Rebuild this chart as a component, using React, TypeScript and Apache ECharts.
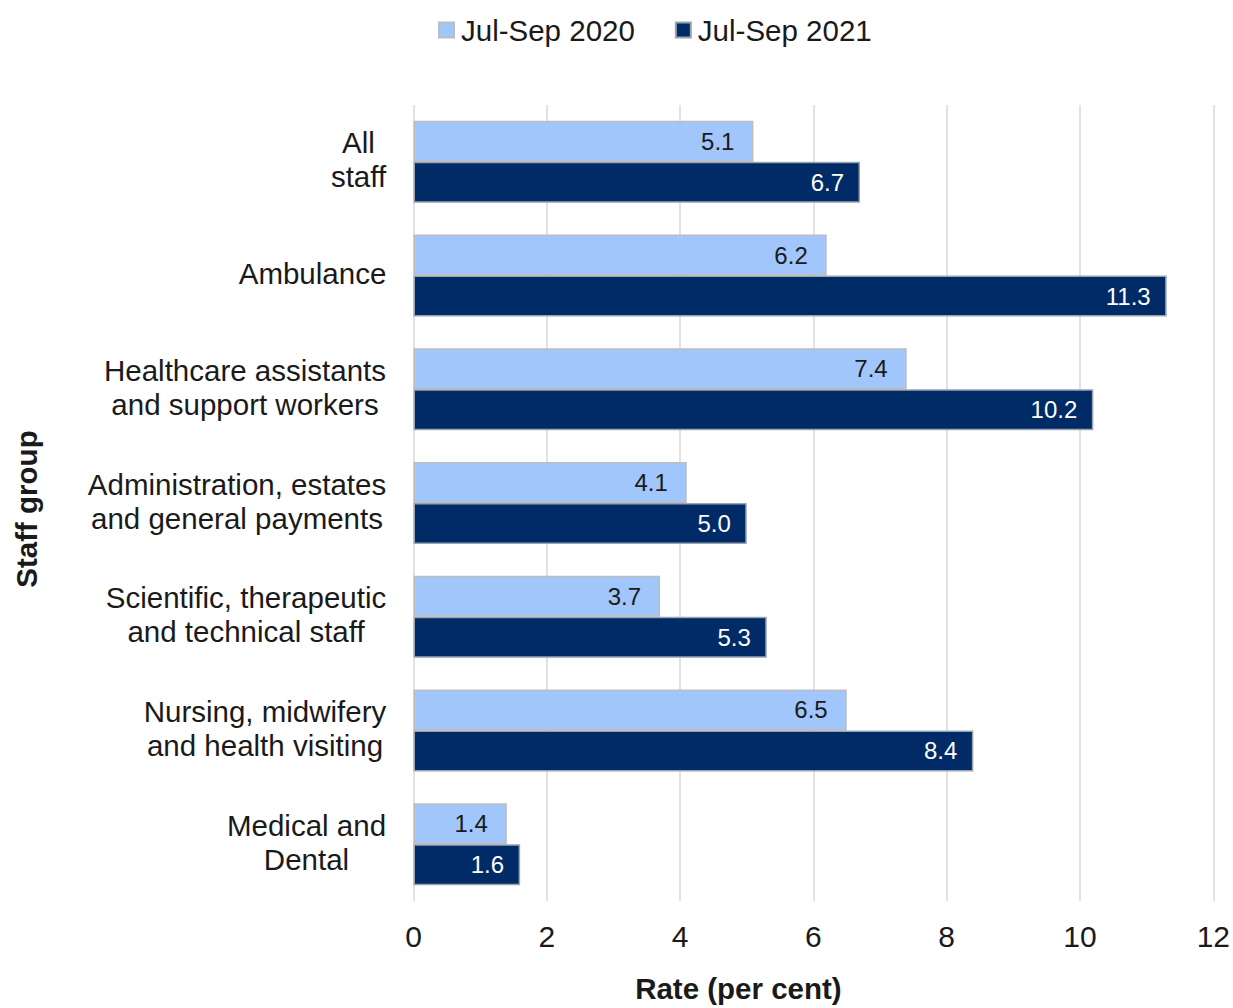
import React, { useEffect, useRef } from "react";
import * as echarts from "echarts";

const categories = [
  "All\nstaff",
  "Ambulance",
  "Healthcare assistants\nand support workers",
  "Administration, estates\nand general payments",
  "Scientific, therapeutic\nand technical staff",
  "Nursing, midwifery\nand health visiting",
  "Medical and\nDental",
];
const seriesNames = ["Jul-Sep 2020", "Jul-Sep 2021"];
const values2020 = [5.1, 6.2, 7.4, 4.1, 3.7, 6.5, 1.4];
const values2021 = [6.7, 11.3, 10.2, 5.0, 5.3, 8.4, 1.6];
const xMin = 0;
const xMax = 12;
const xInterval = 2;

const FONT = '"Liberation Sans", Arial, Helvetica, sans-serif';
const TEXT = "#1a1a1a";
const LIGHT = "#a0c6fb";
const DARK = "#002b66";

function measure(text: string, size: number): number {
  const ctx = document.createElement("canvas").getContext("2d");
  if (!ctx) return text.length * size * 0.5;
  ctx.font = `${size}px ${FONT}`;
  return ctx.measureText(text).width;
}

export default function App() {
  const ref = useRef<HTMLDivElement>(null);
  useEffect(() => {
    if (!ref.current) return;
    const chart = echarts.init(ref.current, undefined, { renderer: "svg" });
    const catSize = 29.5;
    const rich: Record<string, any> = {};
    categories.forEach((c, i) => {
      const w = Math.max(...c.split("\n").map((l) => measure(l, catSize)));
      rich["c" + i] = {
        width: Math.ceil(w) + 2,
        align: "center",
        fontSize: catSize,
        lineHeight: 34,
        fontFamily: FONT,
        color: TEXT,
      };
    });
    chart.setOption({
      animation: false,
      backgroundColor: "#ffffff",
      textStyle: { fontFamily: FONT },
      legend: {
        top: 10,
        left: 433,
        itemWidth: 15,
        itemHeight: 15,
        itemGap: 40,
        icon: "rect",
        textStyle: { fontSize: 29.5, color: TEXT, fontFamily: FONT, padding: [0, 0, 0, 2] },
        data: seriesNames,
      },
      grid: { left: 413.5, right: 19, top: 105, bottom: 105, containLabel: false },
      xAxis: {
        type: "value",
        min: xMin,
        max: xMax,
        interval: xInterval,
        name: "Rate (per cent)",
        nameLocation: "middle",
        nameGap: 72,
        nameTextStyle: {
          fontSize: 29.5,
          fontWeight: "bold",
          color: TEXT,
          fontFamily: FONT,
          padding: [0, 150, 0, 0],
        },
        axisLine: { show: false },
        axisTick: { show: false },
        axisLabel: { fontSize: 30, color: TEXT, margin: 20, fontFamily: FONT },
        splitLine: { show: true, lineStyle: { color: "#d9d9d9", width: 1.5 } },
      },
      yAxis: {
        type: "category",
        inverse: true,
        data: categories,
        name: "Staff group",
        nameLocation: "middle",
        nameGap: 372,
        nameTextStyle: {
          fontSize: 29.5,
          fontWeight: "bold",
          color: TEXT,
          fontFamily: FONT,
          padding: [0, 12, 0, 0],
        },
        axisLine: { show: false },
        axisTick: { show: false },
        axisLabel: {
          margin: 26,
          align: "right",
          padding: [0, 0, 4, 0],
          formatter: (value: string) => {
            const i = categories.indexOf(value);
            return value
              .split("\n")
              .map((l) => `{c${i}|${l}}`)
              .join("\n");
          },
          rich,
        },
      },
      series: [
        {
          name: seriesNames[0],
          type: "bar",
          data: values2020,
          barWidth: 41,
          barGap: "0%",
          itemStyle: { color: LIGHT, borderColor: "#bdbdbd", borderWidth: 1.5 },
          label: {
            show: true,
            position: "insideRight",
            distance: 19,
            fontSize: 24,
            color: TEXT,
            fontFamily: FONT,
            formatter: (p: any) => Number(p.value).toFixed(1),
          },
        },
        {
          name: seriesNames[1],
          type: "bar",
          data: values2021,
          barWidth: 41,
          barGap: "0%",
          itemStyle: { color: DARK, borderColor: "#9aa3b0", borderWidth: 1.5 },
          label: {
            show: true,
            position: "insideRight",
            distance: 16,
            fontSize: 24,
            color: "#ffffff",
            fontFamily: FONT,
            formatter: (p: any) => Number(p.value).toFixed(1),
          },
        },
      ],
    });
    return () => chart.dispose();
  }, []);
  return (
    <div
      ref={ref}
      style={{ position: "fixed", left: 0, top: 0, width: 1233, height: 1008, background: "#fff" }}
    />
  );
}
